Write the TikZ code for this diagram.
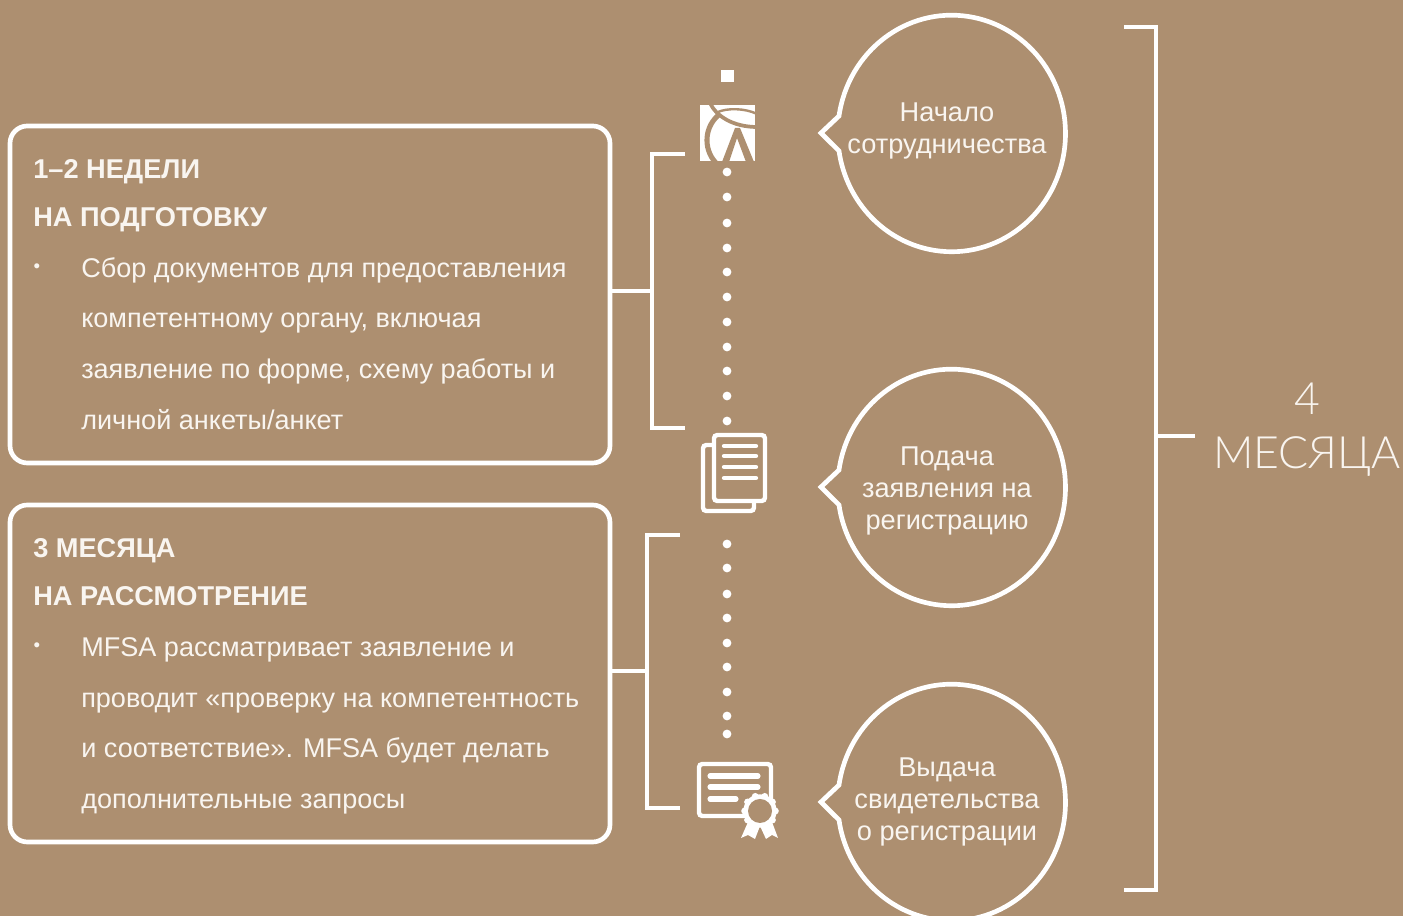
\documentclass[tikz,border=0pt]{standalone}
\usepackage{fontspec}
\setmainfont{Liberation Sans}
\newfontfamily\lightf{Lato Light}
\definecolor{bg}{HTML}{AD8F70}
\definecolor{ink}{HTML}{FFFFFF}
\definecolor{txt}{HTML}{F9F5F0}
\tikzset{
 x=1pt,y=1pt,
 ln/.style={draw=ink,line width=3.5pt},
 thinline/.style={draw=ink,line width=3.3pt},
 card/.style={draw=ink,line width=3.5pt,rounded corners=13pt,inner sep=0pt,outer sep=0pt,anchor=north west,minimum width=450pt,minimum height=252.75pt},
 head/.style={anchor=base west,text=txt,inner sep=0pt,font=\fontsize{20.4}{24}\selectfont\bfseries},
 body/.style={anchor=base west,text=txt,inner sep=0pt,font=\fontsize{20.3}{24}\selectfont},
 bull/.style={anchor=center,text=txt,inner sep=0pt,font=\fontsize{14}{14}\selectfont},
 bub/.style={anchor=center,text=txt,inner sep=0pt,align=center,font=\fontsize{20.4}{24}\selectfont},
 big/.style={anchor=center,text=txt,inner sep=0pt,font=\fontsize{33.4}{40}\selectfont\lightf},
 dotn/.style={circle,fill=ink,inner sep=0pt,minimum size=6.6pt},
}
\newcommand{\PX}[2]{({(#1)*0.75},{(916-(#2))*0.75})}
\newcommand{\bubble}[1]{%
 \draw[ln] \PX{821}{#1} -- \PX{839}{#1-17}
   arc[start angle=171.5,end angle=-171.5,x radius=85.4pt,y radius=88.7pt]
   -- cycle;
}
\begin{document}
\begin{tikzpicture}
\useasboundingbox[fill=bg] (0,0) rectangle (1052.25,687);
\begin{scope}
\clip (0,0) rectangle (1052.25,687);
\bubble{133}\bubble{487}\bubble{802}
\end{scope}
\node[bub] (b1) at \PX{947}{131} {Начало\\сотрудничества};
\node[bub] (b2) at \PX{947}{491} {Подача\\заявления на\\регистрацию};
\node[bub] (b3) at \PX{947}{802} {Выдача\\свидетельства\\о регистрации};
\node[card] (c1) at \PX{10}{126} {};
\node[card] (c2) at \PX{10}{505} {};
\node[head] (h1) at \PX{33}{179} {1–2 НЕДЕЛИ};
\node[head] (h2) at \PX{33}{227} {НА ПОДГОТОВКУ};
\node[bull] (t0) at \PX{37}{268} {•};
\node[body] (t1) at \PX{81}{278} {Сбор документов для предоставления};
\node[body] (t2) at \PX{81}{328} {компетентному органу, включая};
\node[body] (t3) at \PX{81}{379} {заявление по форме, схему работы и};
\node[body] (t4) at \PX{81}{430} {личной анкеты/анкет};
\node[head] (h3) at \PX{33}{558} {3 МЕСЯЦА};
\node[head] (h4) at \PX{33}{606} {НА РАССМОТРЕНИЕ};
\node[bull] (u0) at \PX{37}{647} {•};
\node[body] (u1) at \PX{81}{657} {MFSA рассматривает заявление и};
\node[body] (u2) at \PX{81}{708} {проводит «проверку на компетентность};
\node[body] (u3) at \PX{81}{758} {и соответствие». MFSA будет делать};
\node[body] (u4) at \PX{81}{809} {дополнительные запросы};
\path \PX{652}{291} coordinate (a0) \PX{685}{154} coordinate (a1) \PX{685}{428} coordinate (a2);
\draw[ln] (a1) -- (a1-|a0) -- (a2-|a0) -- (a2);
\draw[ln] (a0-|c1.east) -- (a0);
\path \PX{647}{671} coordinate (d0) \PX{680}{535} coordinate (d1) \PX{680}{808} coordinate (d2);
\draw[ln] (d1) -- (d1-|d0) -- (d2-|d0) -- (d2);
\draw[ln] (d0-|c2.east) -- (d0);
\path \PX{1156}{436} coordinate (e0) \PX{1124}{27} coordinate (e1) \PX{1124}{890} coordinate (e2) \PX{1195}{436} coordinate (e3);
\draw[ln] (e1) -- (e1-|e0) -- (e2-|e0) -- (e2);
\draw[ln] (e0) -- (e3);
\node[big] (m1) at \PX{1307}{399} {4};
\node[big] (m2) at \PX{1307}{457} {МЕСЯЦА};
\foreach \y in {172,197,223,248,272,297,322,347,371,396,421,544,568,594,618,643,667,692,716,734}
  \node[dotn] at \PX{727}{\y} {};
\fill[ink] \PX{721}{70} rectangle \PX{734}{82};
% logo
\begin{scope}
\clip \PX{700}{105} rectangle \PX{755}{161};
\fill[ink] \PX{700}{105} rectangle \PX{755}{161};
\draw[bg,line width=2.8pt] \PX{710}{103} .. controls \PX{716}{116} and \PX{733}{127} .. \PX{757}{127};
\draw[bg,line width=1.8pt] \PX{718}{112} .. controls \PX{727}{108} and \PX{745}{108} .. \PX{757}{114};
\draw[bg,line width=3.8pt] \PX{720}{114} .. controls \PX{705}{125} and \PX{702}{148} .. \PX{716}{163};
\fill[bg] \PX{735}{128} -- \PX{722}{162} -- \PX{729}{162} -- \PX{737}{138} -- \PX{746}{162} -- \PX{754}{162} -- \PX{740}{128} -- cycle;
\end{scope}
% doc icon
\draw[thinline,rounded corners=2.5pt] \PX{714}{445} -- \PX{703}{445} -- \PX{703}{511} -- \PX{754}{511} -- \PX{754}{501};
\draw[thinline,rounded corners=2.5pt] \PX{714}{435} rectangle \PX{765}{501};
\foreach \y in {446,456,467,478}
  \draw[ink,line width=3.2pt,line cap=round] \PX{724}{\y} -- \PX{756}{\y};
% cert icon
\draw[thinline,rounded corners=2.5pt] \PX{745}{816} -- \PX{699}{816} -- \PX{699}{764} -- \PX{771}{764} -- \PX{771}{800};
\foreach \y/\e in {776/758,787/758,799/736}
  \draw[ink,line width=3.8pt,line cap=round] \PX{710}{\y} -- \PX{\e}{\y};
\fill[ink] \PX{748}{822} -- \PX{741}{838} -- \PX{748}{835} -- \PX{755}{839} -- \PX{760}{826} -- \PX{766}{839} -- \PX{772}{835} -- \PX{778}{838} -- \PX{772}{822} -- cycle;
\foreach \a in {0,36,...,324}
  \fill[ink] ([shift={(\a:11.5pt)}]760*0.75,{(916-811)*0.75}) circle[radius=2.6pt];
\fill[ink] \PX{760}{811} circle[radius=12.5pt];
\fill[bg] \PX{760}{811} circle[radius=9pt];
\end{tikzpicture}
\end{document}
